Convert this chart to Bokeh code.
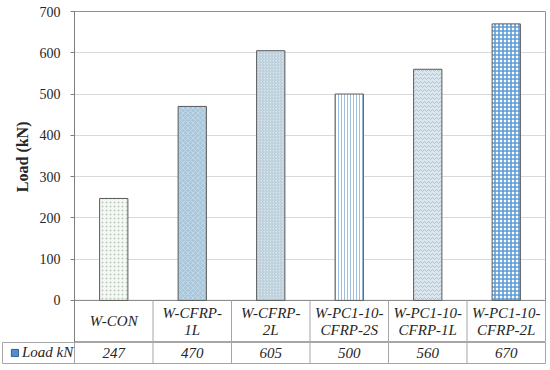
from bokeh.plotting import figure
from bokeh.layouts import column
from bokeh.models import ColumnDataSource, Range1d, FixedTicker, Legend, LegendItem, Title
from bokeh.embed import file_html
from bokeh.resources import INLINE
from bokeh.core.properties import value

# ---- data ----
categories = ["W-CON", "W-CFRP-1L", "W-CFRP-2L", "W-PC1-10-CFRP-2S", "W-PC1-10-CFRP-1L", "W-PC1-10-CFRP-2L"]
cat_labels = ["W-CON", "W-CFRP-\n1L", "W-CFRP-\n2L", "W-PC1-10-\nCFRP-2S", "W-PC1-10-\nCFRP-1L", "W-PC1-10-\nCFRP-2L"]
loads = [247, 470, 605, 500, 560, 670]
y_ticks = [0, 100, 200, 300, 400, 500, 600, 700]
series_name = "Load kN"
y_title = "Load (kN)"

# ---- styles ----
fills = ["#f6f8f6", "#a9c7da", "#d8e5ec", "#ffffff", "#dbe7ee", "#ffffff"]
hatches = ["dot", "diagonal_cross", "right_diagonal_line", "vertical_line", "horizontal_wave", "cross"]
hatch_colors = ["#b9c9ba", "#c2d8e6", "#b2c8d6", "#9dbfdf", "#a8c3d4", "#5b9bd5"]
hatch_scales = [4, 5, 3, 3, 4, 4]
hatch_weights = [1, 1, 1, 1, 1, 1.6]

SERIF = "'Liberation Serif', 'DejaVu Serif', serif"
TXT = "#262626"
GRID = "#a6a6a6"
ROW1_BOTTOM = -102
LEG_W = 0.917
n = len(categories)
xs = [i + 0.5 for i in range(n)]

# ---------- chart + category row ----------
p = figure(width=550, height=342, output_backend="svg", toolbar_location=None,
           x_range=Range1d(0, n), y_range=Range1d(ROW1_BOTTOM, y_ticks[-1]),
           x_axis_location=None, min_border_left=74, min_border_right=5,
           min_border_top=11, min_border_bottom=0, frame_align=False)
p.outline_line_color = GRID
p.xgrid.visible = False
p.ygrid.ticker = FixedTicker(ticks=y_ticks[1:])
p.ygrid.grid_line_color = "#d9d9d9"
p.yaxis.ticker = FixedTicker(ticks=y_ticks)
p.yaxis.axis_line_color = "#7f7f7f"
p.yaxis.major_tick_line_color = "#7f7f7f"
p.yaxis.major_tick_out = 4
p.yaxis.major_tick_in = 0
p.yaxis.minor_tick_line_color = None
p.yaxis.major_label_standoff = 10
p.yaxis.major_label_text_font = SERIF
p.yaxis.major_label_text_font_size = "14px"
p.yaxis.major_label_text_color = TXT

p.add_layout(Title(text=y_title, align="right", offset=110, text_font=SERIF, text_font_style="bold",
                   text_font_size="16px", text_color=TXT, standoff=11), "left")

# chart area border
p.quad(left=[0], right=[n], bottom=[0], top=[y_ticks[-1]], fill_color=None, line_color="#7f7f7f")

src = ColumnDataSource(dict(x=xs, top=loads, fill=fills, hatch=hatches, hcolor=hatch_colors,
                            hscale=hatch_scales, hweight=hatch_weights))
p.vbar(x="x", top="top", bottom=0, width=0.36, source=src, fill_color="fill",
       hatch_pattern="hatch", hatch_color="hcolor", hatch_scale="hscale",
       hatch_weight="hweight", line_color="#595959", line_width=1)

p.segment(x0=list(range(1, n)), y0=[0] * (n - 1), x1=list(range(1, n)), y1=[ROW1_BOTTOM] * (n - 1),
          line_color=GRID, line_width=1)
p.text(x=xs, y=[ROW1_BOTTOM / 2] * n, text=cat_labels, text_align="center", text_baseline="middle",
       text_font=value(SERIF), text_font_style="italic", text_font_size="15px", text_color=TXT,
       text_line_height=1.1)

# ---------- values row with legend cell ----------
t = figure(width=550, height=22, output_backend="svg", toolbar_location=None,
           x_range=Range1d(-LEG_W, n), y_range=Range1d(0, 1),
           x_axis_location=None, y_axis_location=None,
           min_border_left=2, min_border_right=5, min_border_top=0, min_border_bottom=1,
           frame_align=False)
t.outline_line_color = GRID
t.xgrid.visible = False
t.ygrid.visible = False
t.segment(x0=list(range(0, n)), y0=[0] * n, x1=list(range(0, n)), y1=[1] * n,
          line_color=GRID, line_width=1)
t.text(x=xs, y=[0.5] * n, text=[str(v) for v in loads], text_align="center", text_baseline="middle",
       text_font=value(SERIF), text_font_style="italic", text_font_size="15px", text_color=TXT)

# legend key: the series itself, not drawn in this strip (only its swatch is shown)
key_src = ColumnDataSource(dict(x=xs, top=loads))
key = t.vbar(x="x", top="top", width=0.3, source=key_src,
             fill_color="#4f8fd0", line_color="#2f5f8f", line_width=1)
key.visible = False
legend = Legend(items=[LegendItem(label=series_name, renderers=[key])],
                location=(8, 2), padding=2, margin=0, spacing=0, label_standoff=3,
                glyph_width=9, glyph_height=9, label_height=14,
                label_text_font=SERIF, label_text_font_style="italic", label_text_font_size="15px",
                label_text_color=TXT, border_line_color=None, background_fill_alpha=0,
                inactive_fill_alpha=0)
t.add_layout(legend)

layout = column(p, t, spacing=0)
open("out.html", "w").write(file_html(layout, INLINE))
